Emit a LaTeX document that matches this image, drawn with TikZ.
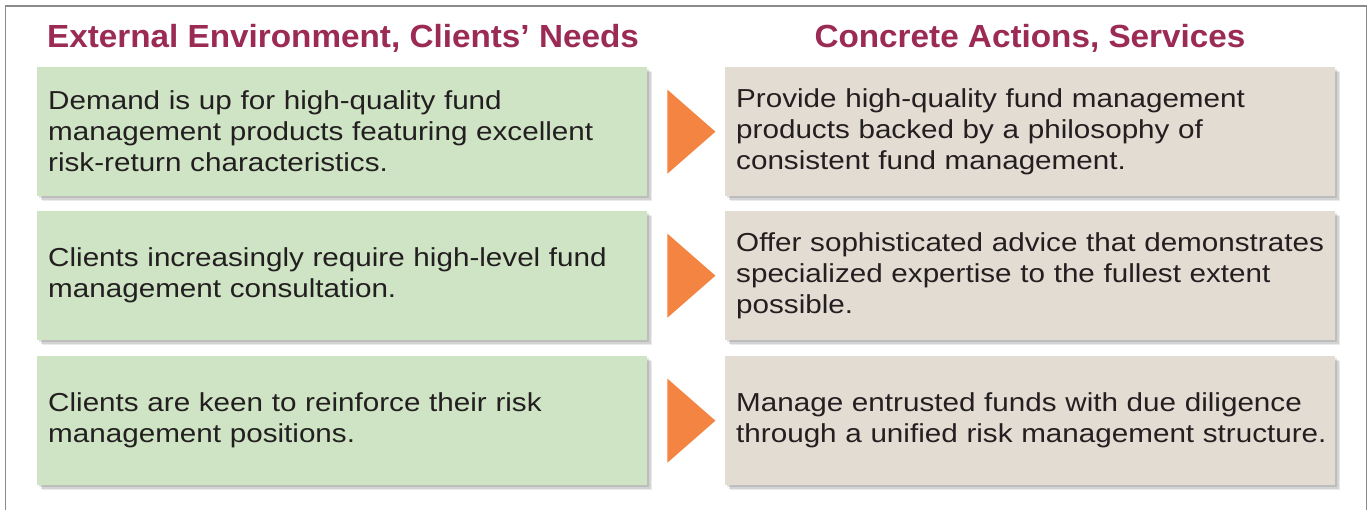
\documentclass[tikz,border=0pt]{standalone}
\usepackage{fontspec}
\setmainfont{Liberation Sans}
\newfontfamily\bodyfont[FakeStretch=1.14]{Liberation Sans}
\newfontfamily\headfont[FakeStretch=1.04]{Liberation Sans Bold}
\usetikzlibrary{calc}
\definecolor{headc}{HTML}{9B2A55}
\definecolor{greenbox}{HTML}{CEE4C4}
\definecolor{beigebox}{HTML}{E2DCD3}
\definecolor{arrowc}{HTML}{F48441}
\definecolor{txt}{HTML}{231F20}
\definecolor{framec}{HTML}{8A8A8A}
\hbadness=10000
\hfuzz=60pt
\begin{document}
\begin{tikzpicture}[x=1pt,y=-1pt,
  shadowed/.style={preaction={fill=black,opacity=0.08,transform canvas={xshift=5pt,yshift=-5pt}},
                   preaction={fill=black,opacity=0.10,transform canvas={xshift=3.5pt,yshift=-3.5pt}},
                   preaction={fill=black,opacity=0.10,transform canvas={xshift=2pt,yshift=-2pt}}},
  boxtext/.style={shadowed,minimum width=610pt,minimum height=129pt,anchor=north west,
                  align=left,text width=588pt,inner xsep=11pt,
                  font=\bodyfont\fontsize{26}{31}\selectfont,text=txt},
  needbox/.style={boxtext,fill=greenbox},
  actbox/.style={boxtext,fill=beigebox},
  heading/.style={font=\headfont\fontsize{32}{38}\selectfont,text=headc},
  tri/.style={fill=arrowc}]
\useasboundingbox (0,0) rectangle (1369,510);
\fill[white] (0,0) rectangle (1369,510);
\draw[framec,line width=1.3pt] (5.5,520) -- (5.5,6) -- (1366.5,6) -- (1366.5,520);
\node[heading] (h1) at (343,38) {External Environment, Clients’ Needs};
\node[heading] (h2) at (1030,38) {Concrete Actions, Services};

\node[needbox] (n1) at (37,67) {Demand is up for high-quality fund\\management products featuring excellent\\risk-return characteristics.};
\node[needbox] (n2) at (37,211) {Clients increasingly require high-level fund\\management consultation.};
\node[needbox] (n3) at (37,356) {Clients are keen to reinforce their risk\\management positions.};

\node[actbox] (a1) at (725,67) {Provide high-quality fund management\\products backed by a philosophy of\\consistent fund management.};
\node[actbox] (a2) at (725,211) {Offer sophisticated advice that demonstrates\\specialized expertise to the fullest extent\\possible.};
\node[actbox] (a3) at (725,356) {Manage entrusted funds with due diligence\\\mbox{through a unified risk management structure.}};

\foreach \i in {1,2,3}{
  \fill[tri] ($(n\i.east)+(20,-42)$) -- ($(n\i.east)+(68,0)$) -- ($(n\i.east)+(20,42)$) -- cycle;
}
\end{tikzpicture}
\end{document}
